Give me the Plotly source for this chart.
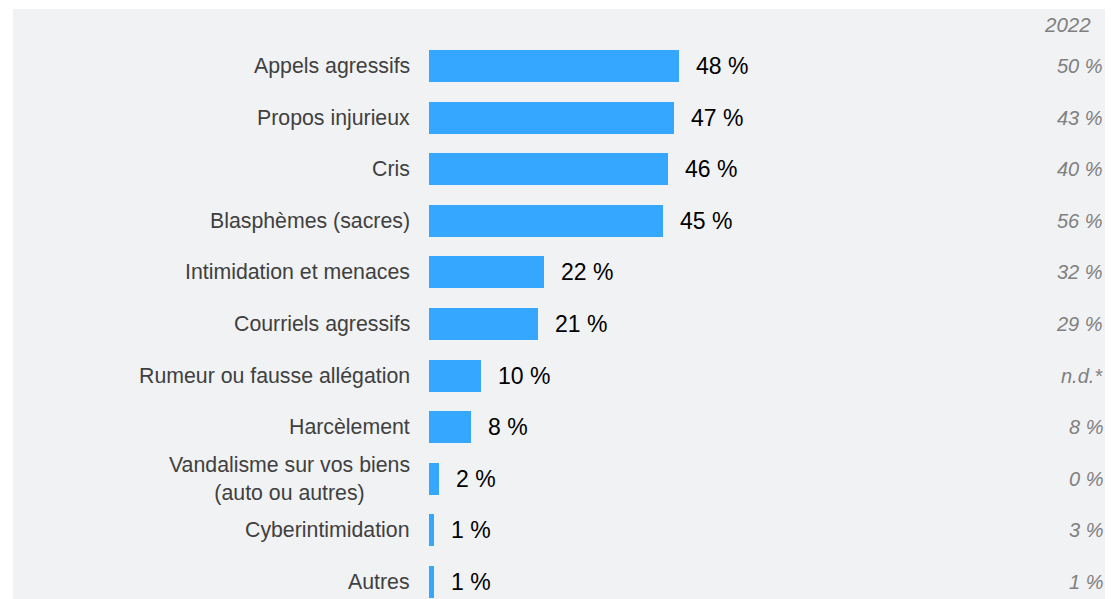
import plotly.graph_objects as go

categories = [
    "Appels agressifs",
    "Propos injurieux",
    "Cris",
    "Blasphèmes (sacres)",
    "Intimidation et menaces",
    "Courriels agressifs",
    "Rumeur ou fausse allégation",
    "Harcèlement",
    "Vandalisme sur vos biens<br>(auto ou autres)",
    "Cyberintimidation",
    "Autres",
]
values_2024 = [48, 47, 46, 45, 22, 21, 10, 8, 2, 1, 1]
labels_2024 = ["48 %", "47 %", "46 %", "45 %", "22 %", "21 %", "10 %", "8 %", "2 %", "1 %", "1 %"]
labels_2022 = ["50 %", "43 %", "40 %", "56 %", "32 %", "29 %", "n.d.*", "8 %", "0 %", "3 %", "1 %"]
header_2022 = "2022"

FONT = "Arial, 'Liberation Sans', sans-serif"
BAR = "#35a7ff"
BG = "#f1f2f4"

fig = go.Figure()
fig.add_trace(go.Bar(
    x=values_2024,
    y=categories,
    orientation="h",
    marker=dict(color=BAR, line=dict(width=0)),
    width=0.62,
    hoverinfo="skip",
))

annotations = []
for cat, v, lab, old in zip(categories, values_2024, labels_2024, labels_2022):
    annotations.append(dict(
        x=0, y=cat, xref="x", yref="y", text=cat, showarrow=False,
        xanchor="right", yanchor="middle", xshift=-17, align="center",
        font=dict(family=FONT, size=21.3, color="#404040"),
    ))
    annotations.append(dict(
        x=v, y=cat, xref="x", yref="y", text=lab, showarrow=False,
        xanchor="left", yanchor="middle", xshift=15,
        font=dict(family=FONT, size=23, color="#000000"),
    ))
    annotations.append(dict(
        x=1, y=cat, xref="paper", yref="y", text="<i>" + old + "</i>", showarrow=False,
        xanchor="right", yanchor="middle", xshift=-8,
        font=dict(family=FONT, size=20, color="#808080"),
    ))
annotations.append(dict(
    x=1, y=-0.814, xref="paper", yref="y", text="<i>" + header_2022 + "</i>", showarrow=False,
    xanchor="right", yanchor="middle", xshift=-20,
    font=dict(family=FONT, size=20.5, color="#808080"),
))

fig.update_layout(
    width=1105, height=591,
    margin=dict(l=5, r=0, t=1, b=0),
    paper_bgcolor="#ffffff",
    plot_bgcolor=BG,
    showlegend=False,
    bargap=0,
    annotations=annotations,
    xaxis=dict(range=[-80, 131.5], visible=False, fixedrange=True),
    yaxis=dict(
        type="category", categoryorder="array", categoryarray=categories,
        range=[10.33, -1.105], visible=False, fixedrange=True,
    ),
)

fig.write_html("out.html", config={"displayModeBar": False})
